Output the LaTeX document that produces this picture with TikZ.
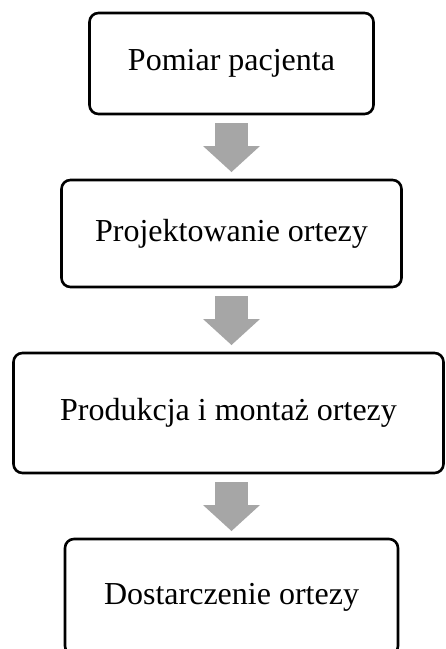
\documentclass[tikz,border=0pt]{standalone}
\usepackage{fontspec}
\setmainfont{Liberation Serif}
\usetikzlibrary{arrows.meta,positioning}
\definecolor{arrowgray}{RGB}{166,166,166}
\tikzset{
  stepbox/.style={draw, line width=2.6pt, rounded corners=9pt, align=center, outer sep=0pt, inner sep=0pt, font=\fontsize{32}{38}\selectfont},
  flowarrow/.style={draw=arrowgray, line width=33pt, -{Triangle[length=26pt, width=57pt, line width=0pt]}, shorten <=9pt, shorten >=8pt}
}
\begin{document}
\begin{tikzpicture}[x=1pt, y=1pt, node distance=66pt]
  \useasboundingbox (0,0) rectangle (446,-649);
  \node[stepbox, minimum width=284pt, minimum height=101pt] (pomiar) at (231.5,-63.5) {Pomiar pacjenta};
  \node[stepbox, minimum width=340pt, minimum height=107pt, below=of pomiar] (projekt) {Projektowanie ortezy};
  \node[stepbox, minimum width=430pt, minimum height=120pt, below=of projekt, xshift=-3pt] (produkcja) {Produkcja i montaż ortezy};
  \node[stepbox, minimum width=333pt, minimum height=116pt, below=of produkcja, xshift=3pt] (dostawa) {Dostarczenie ortezy};

  \draw[flowarrow] (pomiar) -- (projekt);
  \draw[flowarrow] (projekt) -- (produkcja.north -| projekt.south);
  \draw[flowarrow] (produkcja.south -| dostawa.north) -- (dostawa);
\end{tikzpicture}
\end{document}
